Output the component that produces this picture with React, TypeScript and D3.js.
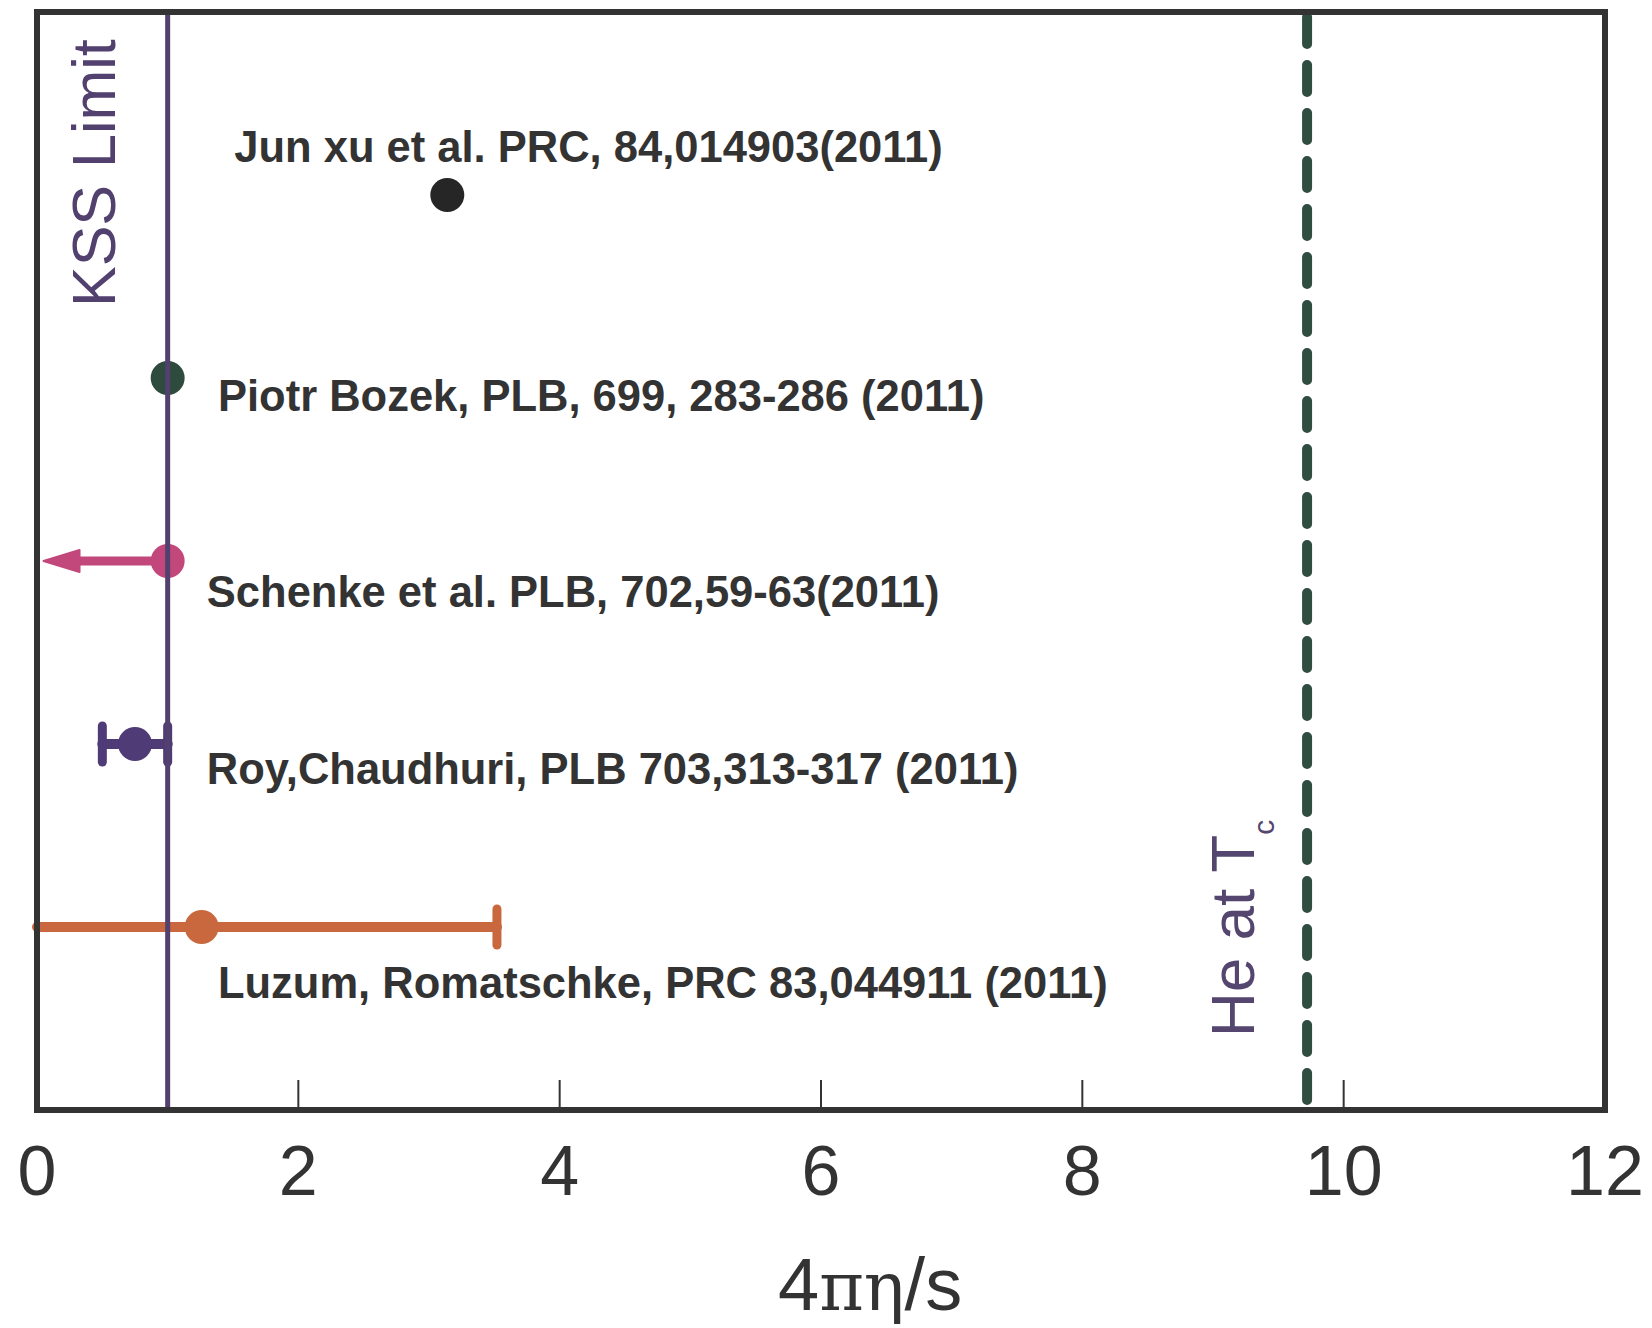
import React from "react";
import * as d3 from "d3";

// ---- data ----
const studies = [
  "Jun xu et al. PRC, 84,014903(2011)",
  "Piotr Bozek, PLB, 699, 283-286 (2011)",
  "Schenke et al. PLB, 702,59-63(2011)",
  "Roy,Chaudhuri, PLB 703,313-317 (2011)",
  "Luzum, Romatschke, PRC 83,044911 (2011)",
];
const rowPos = [5, 4, 3, 2, 1];
const values = [3.14, 1.0, 1.0, 0.75, 1.26];
const errLow: (number | null)[] = [null, null, null, 0.5, 0.0];
const errHigh: (number | null)[] = [null, null, null, 1.0, 3.52];
const upperLimitTo: (number | null)[] = [null, null, 0.05, null, null];
const colors = ["#262626", "#2f4b3d", "#c2477b", "#4f3b76", "#c9683f"];
// annotation anchors (data coords)
const labelX = [1.51, 1.385, 1.3, 1.3, 1.385];
const labelY = [5.18, 3.82, 2.75, 1.78, 0.61];

const xTicks = [0, 2, 4, 6, 8, 10, 12];
const kssLimit = 1.0;
const heliumTc = 9.72;

const W = 1652;
const H = 1328;
const frame = { left: 37, right: 1605, top: 12, bottom: 1110 };

export default function App() {
  const x = d3.scaleLinear().domain([0, 12]).range([frame.left, frame.right]);
  const y = d3.scaleLinear().domain([0, 6]).range([frame.bottom, frame.top]);
  const textCol = "#333333";
  const purple = "#52416f";

  return (
    <svg
      width={W}
      height={H}
      viewBox={`0 0 ${W} ${H}`}
      style={{ position: "absolute", left: 0, top: 0, background: "#fff" }}
      fontFamily="'Liberation Sans', Arial, Helvetica, sans-serif"
    >
      <rect x={0} y={0} width={W} height={H} fill="#fff" />

      {/* inner ticks */}
      {xTicks.slice(1, -1).map((t) => (
        <line
          key={"t" + t}
          x1={x(t)}
          x2={x(t)}
          y1={frame.bottom}
          y2={frame.bottom - 30}
          stroke={textCol}
          strokeWidth={2}
        />
      ))}

      {/* error bars & markers */}
      {values.map((v, i) => {
        const cy = y(rowPos[i]);
        const lo = errLow[i];
        const hi = errHigh[i];
        const ul = upperLimitTo[i];
        const c = colors[i];
        return (
          <g key={"m" + i}>
            {lo != null && hi != null && (
              <g stroke={c} strokeLinecap="round">
                <line x1={x(lo)} x2={x(hi)} y1={cy} y2={cy} strokeWidth={10} />
                {lo > 0.01 && (
                  <line x1={x(lo)} x2={x(lo)} y1={cy - 18} y2={cy + 18} strokeWidth={9} />
                )}
                <line x1={x(hi)} x2={x(hi)} y1={cy - 18} y2={cy + 18} strokeWidth={9} />
              </g>
            )}
            {ul != null && (
              <g>
                <line
                  x1={x(v)}
                  x2={x(ul) + 20}
                  y1={cy}
                  y2={cy}
                  stroke={c}
                  strokeWidth={9}
                />
                <path
                  d={`M${x(ul)},${cy} L${x(ul) + 36},${cy - 11} L${x(ul) + 36},${cy + 11} Z`}
                  fill={c}
                  stroke={c}
                  strokeWidth={2}
                  strokeLinejoin="round"
                />
              </g>
            )}
            <circle cx={x(v)} cy={cy} r={17} fill={c} />
          </g>
        );
      })}

      {/* study labels */}
      {studies.map((s, i) => (
        <text
          key={"l" + i}
          x={x(labelX[i])}
          y={y(labelY[i])}
          fontSize={43.5}
          fontWeight="bold"
          fill={textCol}
        >
          {s}
        </text>
      ))}

      {/* KSS limit line */}
      <line
        x1={x(kssLimit)}
        x2={x(kssLimit)}
        y1={frame.top}
        y2={frame.bottom}
        stroke={purple}
        strokeWidth={5}
      />
      <text
        transform={`translate(115,307) rotate(-90)`}
        fontSize={61}
        fill={purple}
      >
        KSS Limit
      </text>

      {/* Helium at Tc */}
      <line
        x1={x(heliumTc)}
        x2={x(heliumTc)}
        y1={frame.top + 5}
        y2={frame.bottom - 3}
        stroke="#2f4d40"
        strokeWidth={10}
        strokeDasharray="27 21"
        strokeLinecap="round"
      />
      <text transform={`translate(1254,1037) rotate(-90)`} fontSize={62} fill="#54466f">
        He at T
        <tspan fontSize={30} dy={20}>
          c
        </tspan>
      </text>

      {/* frame */}
      <rect
        x={frame.left}
        y={frame.top}
        width={frame.right - frame.left}
        height={frame.bottom - frame.top}
        fill="none"
        stroke={textCol}
        strokeWidth={6}
      />

      {/* tick labels */}
      {xTicks.map((t) => (
        <text
          key={"tl" + t}
          x={x(t)}
          y={1195}
          fontSize={70}
          textAnchor="middle"
          fill={textCol}
        >
          {t}
        </text>
      ))}

      {/* axis title */}
      <text x={778} y={1310} fontSize={74} fill={textCol}>
        4
        <tspan fontFamily="'DejaVu Serif', 'Liberation Serif', serif" fontSize={68}>
          πη
        </tspan>
        /s
      </text>
    </svg>
  );
}
